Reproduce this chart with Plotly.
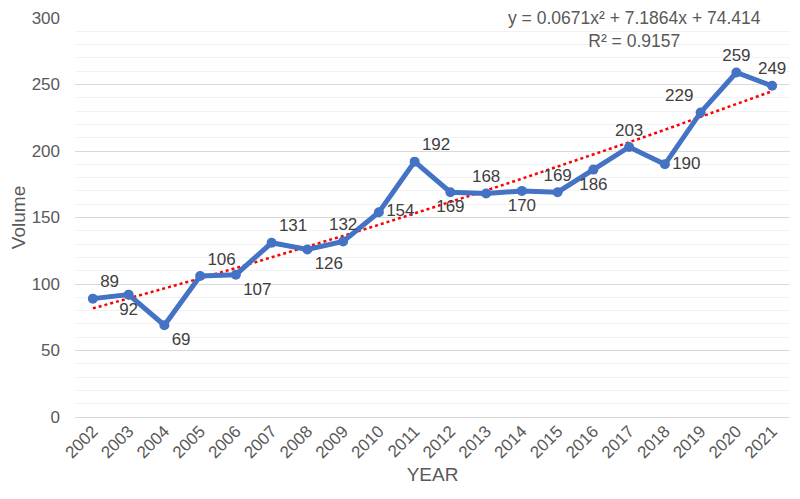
import numpy as np
import plotly.graph_objects as go

# data
years = [str(y) for y in range(2002, 2022)]
volume = [89, 92, 69, 106, 107, 131, 126, 132, 154, 192,
          169, 168, 170, 169, 186, 203, 190, 229, 259, 249]
label_pos = ["top right", "bottom center", "bottom right", "top right", "bottom right",
             "top right", "bottom right", "top center", "middle right", "top right",
             "bottom center", "top center", "bottom center", "top center", "bottom center",
             "top center", "middle right", "top left", "top center", "top center"]

equation = "y = 0.0671x² + 7.1864x + 74.414"
r_squared = "R² = 0.9157"

# 2nd order polynomial trend, x = 1..n like Excel does
xs = np.arange(1, len(volume) + 1)
coef = np.polyfit(xs, volume, 2)
trend = np.polyval(coef, xs)

font_color = "#595959"
font_family = "Liberation Sans, Arial, sans-serif"

fig = go.Figure()

fig.add_trace(go.Scatter(
    x=years, y=trend,
    mode="lines",
    line=dict(color="#FF0000", width=2.5, dash="dot"),
    hoverinfo="skip",
    showlegend=False,
))

fig.add_trace(go.Scatter(
    x=years, y=volume,
    mode="lines+markers+text",
    line=dict(color="#4472C4", width=5),
    marker=dict(color="#4472C4", size=10),
    text=[str(v) for v in volume],
    textposition=label_pos,
    textfont=dict(size=17, color="#404040"),
    cliponaxis=False,
    showlegend=False,
))

fig.add_annotation(
    xref="paper", yref="paper", x=0.782, y=1.03,
    text=equation + "<br>" + r_squared,
    showarrow=False, xanchor="center", yanchor="top",
    font=dict(size=17.5, color=font_color),
    align="center",
)

# page has an 8px body margin, so margins are shifted to match
fig.update_layout(
    width=800, height=499,
    margin=dict(l=67, r=18, t=10, b=90),
    paper_bgcolor="white",
    plot_bgcolor="white",
    font=dict(family=font_family, color=font_color, size=16),
)

fig.update_xaxes(
    type="category",
    range=[-0.5, len(years) - 0.5],
    tickangle=-45,
    tickfont=dict(size=17, color=font_color),
    showgrid=False,
    showline=False,
    ticks="",
    automargin=False,
    title=dict(text="YEAR", font=dict(size=19, color=font_color), standoff=6),
)

fig.update_yaxes(
    range=[0, 300],
    dtick=50,
    showgrid=True,
    gridcolor="#D9D9D9",
    gridwidth=1,
    minor=dict(dtick=10, showgrid=True, gridcolor="#F2F2F2", gridwidth=1),
    zeroline=True,
    zerolinecolor="#D9D9D9",
    zerolinewidth=1,
    tickfont=dict(size=17, color=font_color),
    ticks="",
    ticklabelstandoff=14,
    ticklabeloverflow="allow",
    automargin=False,
    title=dict(text="Volume", font=dict(size=19, color=font_color), standoff=6),
)

fig.write_html("out.html")
